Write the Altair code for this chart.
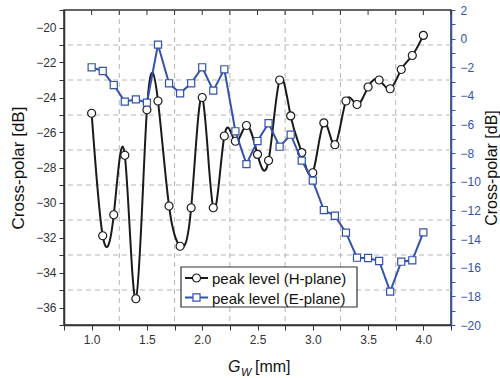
import altair as alt
import pandas as pd

# ---------------- data ----------------
gw = [1.0, 1.1, 1.2, 1.3, 1.4, 1.5, 1.6, 1.7, 1.8, 1.9, 2.0, 2.1, 2.2, 2.3, 2.4, 2.5,
      2.6, 2.7, 2.8, 2.9, 3.0, 3.1, 3.2, 3.3, 3.4, 3.5, 3.6, 3.7, 3.8, 3.9, 4.0]
h_plane = [-24.9, -31.9, -30.7, -27.3, -35.5, -24.7, -24.2, -30.2, -32.5, -30.3, -24.0,
           -30.3, -26.2, -26.5, -25.6, -27.25, -27.6, -23.0, -25.05, -27.15, -28.3,
           -25.45, -26.7, -24.2, -24.4, -23.4, -23.0, -23.5, -22.4, -21.6, -20.45]
e_plane = [-2.0, -2.26, -3.24, -4.4, -4.24, -4.47, -0.42, -3.12, -3.82, -3.12, -2.0,
           -3.63, -2.14, -6.47, -8.76, -7.15, -5.91, -7.55, -6.71, -8.52, -9.92,
           -11.97, -12.37, -13.55, -15.3, -15.32, -15.53, -17.67, -15.58, -15.48, -13.53]
series_names = ["peak level (H-plane)", "peak level (E-plane)"]

x_ticks = [0.75, 1.0, 1.25, 1.5, 1.75, 2.0, 2.25, 2.5, 2.75, 3.0, 3.25, 3.5, 3.75, 4.0, 4.25]
x_grid = [1.25, 1.75, 2.25, 2.75, 3.25, 3.75]
y_grid = [-21, -23, -25, -27, -29, -31, -33, -35]
left_ticks = [-37, -36, -35, -34, -33, -32, -31, -30, -29, -28, -27, -26, -25, -24, -23,
              -22, -21, -20, -19]
right_ticks = [-20, -19, -18, -17, -16, -15, -14, -13, -12, -11, -10, -9, -8, -7, -6, -5,
               -4, -3, -2, -1, 0, 1, 2]
x_title_parts = ["G", "W", "[mm]"]
y_title = "Cross-polar [dB]"

# ---------------- style ----------------
W, H = 387, 315
FONT = "Liberation Sans"
BLACK = "#1a1a1a"
BLUE = "#3352aa"
AXC = "#333333"

xscale = alt.Scale(domain=[0.75, 4.25], nice=False, zero=False)
ylscale = alt.Scale(domain=[-37, -19], nice=False, zero=False)
yrscale = alt.Scale(domain=[-20, 2], nice=False, zero=False)

df_h = pd.DataFrame({"gw": gw, "v": h_plane})
df_e = pd.DataFrame({"gw": gw, "v": e_plane})

x_axis = alt.Axis(
    values=x_ticks,
    labelExpr="(datum.value >= 1 && datum.value <= 4 && (datum.value*2) % 1 == 0) ? format(datum.value, '.1f') : ''",
    title=None, grid=False, tickSize=5, tickColor=AXC, domainColor=AXC, domainWidth=1.5,
    labelFont=FONT, labelFontSize=12, labelColor=AXC, labelPadding=4, labelOverlap=False,
    orient="bottom",
)
yl_axis = alt.Axis(
    values=left_ticks, labelExpr="datum.value % 2 == 0 ? datum.label : ''",
    title=y_title, titleFont=FONT, titleFontSize=17, titleFontWeight="normal", titleColor="#111",
    titlePadding=8, grid=False, tickSize=5, tickColor=AXC, domainColor=AXC, domainWidth=1.5,
    labelFont=FONT, labelFontSize=12, labelColor=AXC, labelPadding=3, labelOverlap=False,
    orient="left",
)
yr_axis = alt.Axis(
    values=right_ticks, labelExpr="datum.value % 2 == 0 ? datum.label : ''",
    title=y_title, titleFont=FONT, titleFontSize=16, titleFontWeight="normal", titleColor="#111",
    titleAngle=270, titleBaseline="top",
    titlePadding=3, grid=False, tickSize=4, tickColor=BLUE, domainColor=BLUE, domainWidth=1.5,
    labelFont=FONT, labelFontSize=12, labelColor=BLUE, labelPadding=5, labelOverlap=False,
    orient="right",
)

# grid lines
vgrid = alt.Chart(pd.DataFrame({"gw": x_grid})).mark_rule(
    strokeDash=[5, 4], color="#b5b5b5", strokeWidth=1
).encode(x=alt.X("gw:Q", scale=xscale, axis=x_axis))
hgrid = alt.Chart(pd.DataFrame({"v": y_grid})).mark_rule(
    strokeDash=[5, 4], color="#b5b5b5", strokeWidth=1
).encode(y=alt.Y("v:Q", scale=ylscale, axis=yl_axis))

# top inward ticks
top_ticks = alt.Chart(pd.DataFrame({"gw": x_ticks})).mark_rule(
    color=AXC, strokeWidth=1
).encode(x=alt.X("gw:Q", scale=xscale, axis=x_axis), y=alt.value(0), y2=alt.value(5))

h_line = alt.Chart(df_h).mark_line(interpolate="natural", color=BLACK, strokeWidth=2).encode(
    x=alt.X("gw:Q", scale=xscale, axis=x_axis),
    y=alt.Y("v:Q", scale=ylscale, axis=yl_axis),
)
h_pts = alt.Chart(df_h).mark_point(
    shape="circle", filled=True, color="white", stroke=BLACK, strokeWidth=1.2, size=64, opacity=1
).encode(
    x=alt.X("gw:Q", scale=xscale, axis=x_axis),
    y=alt.Y("v:Q", scale=ylscale, axis=yl_axis),
)

left = alt.layer(vgrid, hgrid, top_ticks, h_line, h_pts)

e_line = alt.Chart(df_e).mark_line(color=BLUE, strokeWidth=2).encode(
    x=alt.X("gw:Q", scale=xscale, axis=x_axis),
    y=alt.Y("v:Q", scale=yrscale, axis=yr_axis),
)
e_pts = alt.Chart(df_e).mark_point(
    shape="square", filled=True, color="white", stroke=BLUE, strokeWidth=1.2, size=50, opacity=1
).encode(
    x=alt.X("gw:Q", scale=xscale, axis=x_axis),
    y=alt.Y("v:Q", scale=yrscale, axis=yr_axis),
)
right = alt.layer(e_line, e_pts)

# legend (manual)
leg_df = pd.DataFrame({"name": series_names})
box = alt.Chart(leg_df.iloc[:1]).mark_rect(
    fill="white", stroke=AXC, strokeWidth=1.2
).encode(x=alt.value(117), x2=alt.value(293), y=alt.value(257), y2=alt.value(297))
leg_layers = [box]
for i, (col, shp, sz) in enumerate([(BLACK, "circle", 64), (BLUE, "square", 50)]):
    yy = 268 + 19.5 * i
    d = leg_df.iloc[i:i + 1]
    leg_layers.append(alt.Chart(d).mark_rule(color=col, strokeWidth=2).encode(
        x=alt.value(121), x2=alt.value(144), y=alt.value(yy)))
    leg_layers.append(alt.Chart(d).mark_point(
        shape=shp, filled=True, color="white", stroke=col, strokeWidth=1.2, size=sz, opacity=1
    ).encode(x=alt.value(132.5), y=alt.value(yy)))
    leg_layers.append(alt.Chart(d).mark_text(
        align="left", baseline="middle", font=FONT, fontSize=15, color="#111"
    ).encode(x=alt.value(148), y=alt.value(yy + 1), text="name:N"))

# x-axis title with subscript
xt = pd.DataFrame({"t": x_title_parts})
xt_g = alt.Chart(xt.iloc[0:1]).mark_text(
    align="left", baseline="alphabetic", font=FONT, fontSize=16, fontStyle="italic", color="#111"
).encode(x=alt.value(164), y=alt.value(362), text="t:N")
xt_w = alt.Chart(xt.iloc[1:2]).mark_text(
    align="left", baseline="alphabetic", font=FONT, fontSize=11, fontStyle="italic", color="#111"
).encode(x=alt.value(177), y=alt.value(366), text="t:N")
xt_mm = alt.Chart(xt.iloc[2:3]).mark_text(
    align="left", baseline="alphabetic", font=FONT, fontSize=16, color="#111"
).encode(x=alt.value(191), y=alt.value(362), text="t:N")

extras = alt.layer(*leg_layers, xt_g, xt_w, xt_mm)

chart = alt.layer(left, right, extras).resolve_scale(y="independent").properties(
    width=W, height=H,
    autosize=alt.AutoSizeParams(type="none"),
    padding={"left": 64, "top": 10, "right": 49, "bottom": 53},
    background="white",
).configure_view(stroke=AXC, strokeWidth=1.5)

chart.save("out.html", embed_options={"renderer": "svg", "actions": False})
